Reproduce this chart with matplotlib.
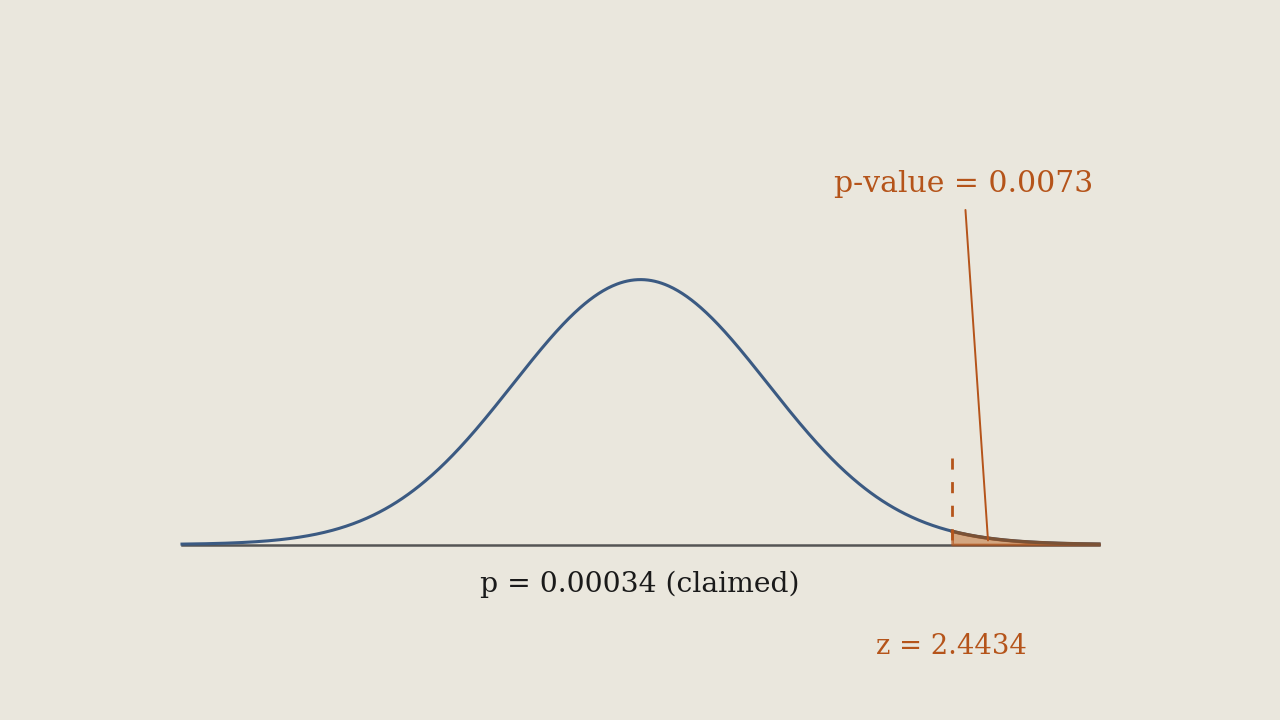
import numpy as np
import matplotlib
matplotlib.use("Agg")
from matplotlib import pyplot as plt

# values
z_obs = 2.4434
p_value_label = "p-value = 0.0073"
claimed_label = "p = 0.00034 (claimed)"
z_label = "z = 2.4434"
x_lo, x_hi = -3.6, 3.6

bg = "#EAE7DD"
blue = "#3B5A82"
orange = "#B5541A"

x = np.linspace(x_lo, x_hi, 800)
pdf = np.exp(-x ** 2 / 2) / np.sqrt(2 * np.pi)

fig = plt.figure(figsize=(12.8, 7.2), dpi=100, facecolor=bg)
ax = fig.add_axes([182 / 1280, 175.5 / 720, 917 / 1280, 332 / 720])
ax.set_facecolor(bg)
ax.set_xlim(x_lo, x_hi)
ax.set_ylim(0, 0.5)
ax.axis("off")

ax.axhline(0, color="#555555", lw=1.8, zorder=1, clip_on=False)
ax.plot(x, pdf, color=blue, lw=2.2, zorder=2, clip_on=False)

tail = x >= z_obs
ax.fill_between(x[tail], 0, pdf[tail], color="#C8834F", alpha=0.65,
                edgecolor=orange, lw=2, zorder=3, clip_on=False)
ax.plot(x[tail], pdf[tail], color="#7A5236", lw=2.4, zorder=4, clip_on=False)
# drawn top-down so the dash pattern starts at the top
ax.plot([z_obs, z_obs], [0.131, 0], color=orange, lw=2, ls=(0, (4, 4.5)),
        zorder=4, clip_on=False)

ax.annotate("", xy=(2.73, 0.002), xytext=(2.55, 0.508),
            arrowprops=dict(arrowstyle="-", color=orange, lw=1.4),
            annotation_clip=False, zorder=5)

serif = "DejaVu Serif"
fig.text(964 / 1280, 1 - 184 / 720, p_value_label, color=orange, family=serif,
         fontsize=21.5, ha="center", va="center")
fig.text(640 / 1280, 1 - 584 / 720, claimed_label, color="#1A1A1A", family=serif,
         fontsize=20.3, ha="center", va="center")
fig.text(951 / 1280, 1 - 647 / 720, z_label, color=orange, family=serif,
         fontsize=19.7, ha="center", va="center")

fig.savefig("out.png", dpi=100, facecolor=bg)
